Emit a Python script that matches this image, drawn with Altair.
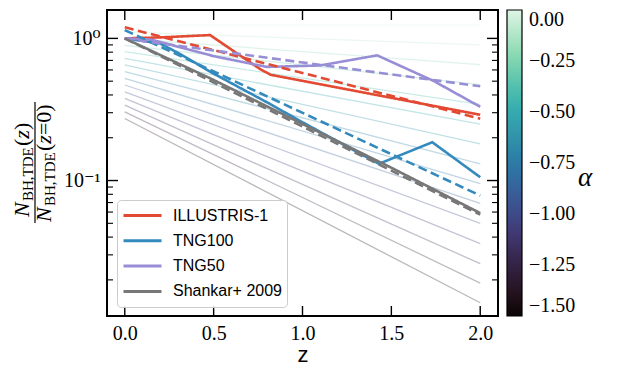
import altair as alt
import pandas as pd

# ---------------- data ----------------
z_ticks = [0.0, 0.5, 1.0, 1.5, 2.0]
y_major = [0.1, 1.0]
y_minor = [0.02, 0.03, 0.04, 0.05, 0.06, 0.07, 0.08, 0.09,
           0.2, 0.3, 0.4, 0.5, 0.6, 0.7, 0.8, 0.9]
cbar_ticks = [0.0, -0.25, -0.5, -0.75, -1.0, -1.25, -1.5]

# family of thin model lines, one per alpha, value at z=0 and z=2
alpha_z = [0.0, 2.0]
alpha_vals = [0.0, -0.1, -0.2, -0.3, -0.4, -0.5, -0.6, -0.7,
              -0.8, -0.9, -1.0, -1.1, -1.2, -1.3, -1.4]
alpha_start = [1.241, 1.113, 0.998, 0.892, 0.807, 0.724, 0.650, 0.583,
               0.523, 0.470, 0.421, 0.378, 0.339, 0.304, 0.273]
alpha_end = [1.241, 0.900, 0.653, 0.473, 0.343, 0.249, 0.181, 0.131,
             0.095, 0.069, 0.050, 0.036, 0.026, 0.019, 0.0138]

series_names = ["ILLUSTRIS-1", "TNG100", "TNG50", "Shankar+ 2009"]
series_colors = ["#E24A33", "#348ABD", "#988ED5", "#777777"]

ill_z = [0.0, 0.2, 0.48, 0.76, 0.82, 2.0]
ill_v = [1.0, 1.016, 1.055, 0.61, 0.555, 0.29]
t100_z = [0.0, 0.2, 0.3, 0.5, 0.8, 1.0, 1.43, 1.73, 2.0]
t100_v = [1.0, 0.92, 0.79, 0.565, 0.355, 0.257, 0.131, 0.186, 0.1055]
t50_z = [0.0, 0.15, 0.5, 0.8, 1.1, 1.42, 1.74, 2.0]
t50_v = [1.0, 0.98, 0.75, 0.63, 0.645, 0.76, 0.50, 0.33]
sh_z = [0.0, 0.5, 1.0, 1.5, 2.0]
sh_v = [1.0, 0.51, 0.25, 0.123, 0.059]

fit_z = [0.0, 2.0]
ill_fit = [1.196, 0.2725]
t100_fit = [1.144, 0.0784]
t50_fit = [0.997, 0.46]
sh_fit = [1.0, 0.0575]

# ---------------- tables ----------------
faint_rows = []
for a, s, e in zip(alpha_vals, alpha_start, alpha_end):
    faint_rows.append({"alpha": a, "z": alpha_z[0], "v": s})
    faint_rows.append({"alpha": a, "z": alpha_z[1], "v": e})
faint_df = pd.DataFrame(faint_rows)

ser_rows = []
for name, zs, vs in [(series_names[0], ill_z, ill_v), (series_names[1], t100_z, t100_v),
                     (series_names[2], t50_z, t50_v), (series_names[3], sh_z, sh_v)]:
    for z, v in zip(zs, vs):
        ser_rows.append({"series": name, "kind": "sim", "z": z, "v": v})
for name, vs in [(series_names[0], ill_fit), (series_names[1], t100_fit),
                 (series_names[2], t50_fit), (series_names[3], sh_fit)]:
    for z, v in zip(fit_z, vs):
        ser_rows.append({"series": name, "kind": "fit", "z": z, "v": v})
ser_df = pd.DataFrame(ser_rows)

W, H = 391, 306
SERIF = "Liberation Serif, DejaVu Serif, serif"
SANS = "Liberation Sans, Arial, sans-serif"

xs = alt.Scale(domain=[-0.1, 2.1], nice=False, zero=False)
ys = alt.Scale(type="log", domain=[0.01114, 1.584], nice=False)

xaxis = alt.Axis(values=z_ticks, format=".1f", ticks=False, tickSize=0, domain=False, grid=False,
                 labelFont=SERIF, labelFontSize=20, labelPadding=7, labelColor="black",
                 title="z", titleFont=SANS, titleFontSize=22, titleFontWeight="normal",
                 titlePadding=1, titleColor="black")
yaxis = alt.Axis(values=y_major, labelExpr="datum.value >= 1 ? '10⁰' : '10⁻¹'",
                 ticks=False, tickSize=0, domain=False, grid=False,
                 labelFont=SERIF, labelFontSize=20, labelPadding=7, labelColor="black", title=None)

X = alt.X("z:Q", scale=xs, axis=xaxis)
Y = alt.Y("v:Q", scale=ys, axis=yaxis)

n_stops = 8
mako = ["#0b0405", "#2e1e3b", "#413d7b", "#37659e", "#348fa7", "#40b7ad", "#8bdab2", "#def5e5"]
mako_dom = [-1.5 + 1.5 * i / (n_stops - 1) for i in range(n_stops)]

faint = alt.Chart(faint_df).mark_line(strokeWidth=1.3, strokeOpacity=0.3, clip=True).encode(
    x=X, y=Y,
    color=alt.Color("alpha:Q", scale=alt.Scale(domain=mako_dom, range=mako),
                    legend=alt.Legend(direction="vertical", orient="right", offset=9, padding=0,
                                      gradientLength=H, gradientThickness=15, gradientOpacity=1,
                                      gradientStrokeColor="black", gradientStrokeWidth=1.2,
                                      values=cbar_ticks, format=".2f", labelOverlap=False,
                                      labelFont=SERIF, labelFontSize=20, labelOffset=7,
                                      labelColor="black", labelBaseline="middle", title=None)),
    detail="alpha:N",
)

lines = alt.Chart(ser_df).mark_line(strokeWidth=2.6, clip=True).encode(
    x=X, y=Y,
    color=alt.Color("series:N", scale=alt.Scale(domain=series_names, range=series_colors),
                    legend=alt.Legend(orient="none", legendX=10, legendY=190, title=None,
                                      symbolType="stroke", symbolSize=1444, symbolStrokeWidth=3,
                                      clipHeight=21, rowPadding=4.3,
                                      labelFont=SANS, labelFontSize=16, labelOffset=10,
                                      labelColor="black", padding=5,
                                      fillColor="rgba(255,255,255,0.85)", strokeColor="#cccccc",
                                      cornerRadius=4)),
    strokeDash=alt.StrokeDash("kind:N", scale=alt.Scale(domain=["sim", "fit"], range=[[1, 0], [9, 4.5]]),
                              legend=None),
)

xt_df = pd.DataFrame({"z": z_ticks})
ymaj_df = pd.DataFrame({"v": y_major})
ymin_df = pd.DataFrame({"v": y_minor})

tick_style = dict(color="black", strokeWidth=1.4)
xb = alt.Chart(xt_df).mark_rule(**tick_style).encode(x=X, y=alt.value(H), y2=alt.value(H - 10))
xtop = alt.Chart(xt_df).mark_rule(**tick_style).encode(x=X, y=alt.value(0), y2=alt.value(10))
yl = alt.Chart(ymaj_df).mark_rule(**tick_style).encode(y=Y, x=alt.value(0), x2=alt.value(11))
yr = alt.Chart(ymaj_df).mark_rule(**tick_style).encode(y=Y, x=alt.value(W), x2=alt.value(W - 11))
yml = alt.Chart(ymin_df).mark_rule(color="black", strokeWidth=1.1).encode(y=Y, x=alt.value(0), x2=alt.value(6))
ymr = alt.Chart(ymin_df).mark_rule(color="black", strokeWidth=1.1).encode(y=Y, x=alt.value(W), x2=alt.value(W - 6))

dummy = pd.DataFrame({"d": [0]})


def piece(s, x, y, size, style="normal", angle=270):
    return alt.Chart(dummy).mark_text(text=s, angle=angle, align="left", baseline="alphabetic",
                                      font=SERIF, fontSize=size, fontStyle=style,
                                      color="black").encode(x=alt.value(x), y=alt.value(y))


title_parts = [
    piece("N", -78, 207, 22, "italic"),
    piece("BH,TDE", -74.5, 191, 15),
    piece("(", -78, 136, 22),
    piece("z", -78, 128.7, 22, "italic"),
    piece(")", -78, 120.1, 22),
    piece("N", -56, 212, 22, "italic"),
    piece("BH,TDE", -52.5, 196, 15),
    piece("(", -56, 141, 22),
    piece("z", -56, 133.7, 22, "italic"),
    piece("=0)", -56, 125.1, 22),
    piece("α", 471, 176, 27, "italic", angle=0),
]
bar = alt.Chart(dummy).mark_rule(color="black", strokeWidth=1.2).encode(
    x=alt.value(-72), y=alt.value(92), y2=alt.value(213))

chart = alt.layer(faint, lines, xb, xtop, yl, yr, yml, ymr, bar, *title_parts).resolve_scale(
    color="independent"
).properties(
    width=W, height=H,
    autosize=alt.AutoSizeParams(type="none"),
    padding={"left": 107, "top": 10, "right": 126, "bottom": 54},
    background="white",
).configure_view(stroke="black", strokeWidth=2)

chart.save("out.html", embed_options={"renderer": "svg", "actions": False})
